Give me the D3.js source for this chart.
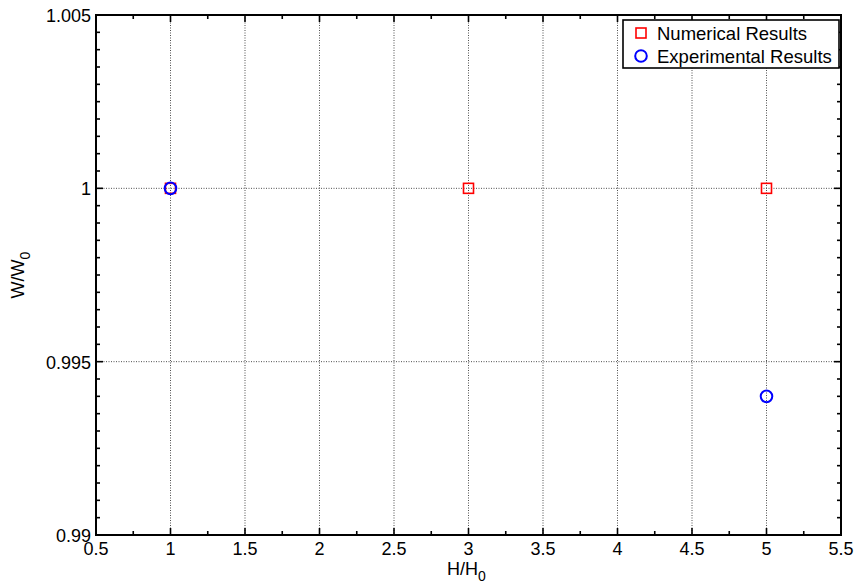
<!DOCTYPE html>
<html>
<head>
<meta charset="utf-8">
<script src="https://cdn.jsdelivr.net/npm/d3@7"></script>
<style>
  html, body { margin: 0; padding: 0; background: #fff; }
  svg { display: block; font-family: "Liberation Sans", Arial, sans-serif; }
</style>
</head>
<body>
<svg id="chart" width="859" height="588"></svg>
<script>
// Normalised width W/W0 versus normalised height H/H0
const numericalX = [1, 3, 5];
const numericalY = [1, 1, 1];
const experimentalX = [1, 5];
const experimentalY = [1, 0.994];

const xTicks = [0.5, 1, 1.5, 2, 2.5, 3, 3.5, 4, 4.5, 5, 5.5];
const yTicks = [0.99, 0.995, 1, 1.005];
const xTickLabels = ["0.5", "1", "1.5", "2", "2.5", "3", "3.5", "4", "4.5", "5", "5.5"];
const yTickLabels = ["0.99", "0.995", "1", "1.005"];
const legendLabels = ["Numerical Results", "Experimental Results"];

const svg = d3.select("#chart");
const m = { left: 96, right: 841, top: 15, bottom: 535 };
const fs = 18;

const x = d3.scaleLinear().domain([0.5, 5.5]).range([m.left, m.right]);
const y = d3.scaleLinear().domain([0.99, 1.005]).range([m.bottom, m.top]);

// dotted grid on major ticks
const grid = svg.append("g");
grid.selectAll("line.gx").data(xTicks.slice(1, -1)).enter().append("line")
  .attr("x1", d => x(d)).attr("x2", d => x(d))
  .attr("y1", m.top).attr("y2", m.bottom)
  .attr("stroke", "#222").attr("stroke-width", 0.8).attr("stroke-dasharray", "1,1.5");
grid.selectAll("line.gy").data(yTicks.slice(1, -1)).enter().append("line")
  .attr("x1", m.left).attr("x2", m.right)
  .attr("y1", d => y(d)).attr("y2", d => y(d))
  .attr("stroke", "#222").attr("stroke-width", 0.8).attr("stroke-dasharray", "1,1.5");

// minor tick positions
const xMinor = d3.range(0.75, 5.5, 0.5);
const yMinor = d3.range(1, 30).map(i => 0.99 + i * 0.0005).filter(v => Math.abs((v - 0.99) / 0.005 - Math.round((v - 0.99) / 0.005)) > 1e-6);

const tk = svg.append("g").attr("stroke", "#000").attr("stroke-width", 1.6);
function hTicks(vals, len) {
  vals.forEach(v => {
    tk.append("line").attr("x1", x(v)).attr("x2", x(v)).attr("y1", m.bottom).attr("y2", m.bottom - len);
    tk.append("line").attr("x1", x(v)).attr("x2", x(v)).attr("y1", m.top).attr("y2", m.top + len);
  });
}
function vTicks(vals, len) {
  vals.forEach(v => {
    tk.append("line").attr("y1", y(v)).attr("y2", y(v)).attr("x1", m.left).attr("x2", m.left + len);
    tk.append("line").attr("y1", y(v)).attr("y2", y(v)).attr("x1", m.right).attr("x2", m.right - len);
  });
}
hTicks(xTicks, 7);
hTicks(xMinor, 4);
vTicks(yTicks, 7);
vTicks(yMinor, 4);

// frame
svg.append("rect")
  .attr("x", m.left).attr("y", m.top)
  .attr("width", m.right - m.left).attr("height", m.bottom - m.top)
  .attr("fill", "none").attr("stroke", "#000").attr("stroke-width", 2);

// tick labels
svg.append("g").selectAll("text").data(xTicks).enter().append("text")
  .attr("x", d => x(d)).attr("y", m.bottom + 20)
  .attr("text-anchor", "middle").attr("font-size", fs).attr("fill", "#000")
  .text((d, i) => xTickLabels[i]);
svg.append("g").selectAll("text").data(yTicks).enter().append("text")
  .attr("x", m.left - 5).attr("y", d => y(d) + 7)
  .attr("text-anchor", "end").attr("font-size", fs).attr("fill", "#000")
  .text((d, i) => yTickLabels[i]);

// axis titles
const xl = svg.append("text").attr("x", 447).attr("y", 575).attr("font-size", fs).attr("fill", "#000");
xl.append("tspan").text("H/H");
xl.append("tspan").attr("dy", 6).attr("font-size", 14).text("0");

const yl = svg.append("text").attr("transform", "translate(24,275) rotate(-90)")
  .attr("text-anchor", "middle").attr("font-size", fs).attr("fill", "#000");
yl.append("tspan").text("W/W");
yl.append("tspan").attr("dy", 6).attr("font-size", 14).text("0");

// markers
svg.append("g").selectAll("rect").data(numericalX).enter().append("rect")
  .attr("x", d => x(d) - 5).attr("y", (d, i) => y(numericalY[i]) - 5)
  .attr("width", 10).attr("height", 10)
  .attr("fill", "none").attr("stroke", "#ff0000").attr("stroke-width", 1.6);
svg.append("g").selectAll("circle").data(experimentalX).enter().append("circle")
  .attr("cx", d => x(d)).attr("cy", (d, i) => y(experimentalY[i]))
  .attr("r", 5.8)
  .attr("fill", "none").attr("stroke", "#0000ff").attr("stroke-width", 2);

// legend
const lg = svg.append("g");
lg.append("rect").attr("x", 623).attr("y", 20).attr("width", 216).attr("height", 48)
  .attr("fill", "#fff").attr("stroke", "#000").attr("stroke-width", 1.6);
lg.append("rect").attr("x", 636).attr("y", 28).attr("width", 10).attr("height", 10)
  .attr("fill", "none").attr("stroke", "#ff0000").attr("stroke-width", 1.6);
lg.append("circle").attr("cx", 641).attr("cy", 56).attr("r", 5.8)
  .attr("fill", "none").attr("stroke", "#0000ff").attr("stroke-width", 2);
lg.selectAll("text").data(legendLabels).enter().append("text")
  .attr("x", 657).attr("y", (d, i) => 40 + i * 23)
  .attr("font-size", 18.5).attr("fill", "#000")
  .text(d => d);
</script>
</body>
</html>
